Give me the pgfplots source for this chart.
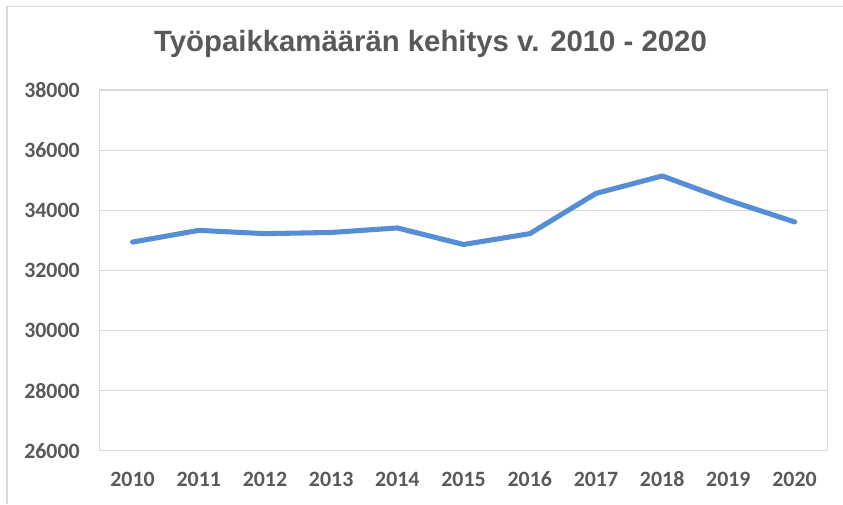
\documentclass[border=0pt]{standalone}
\usepackage{pgfplots}
\pgfplotsset{compat=1.18}
\usepackage{fontspec}
\setmainfont{Liberation Sans}
\newfontfamily\tickfont{Carlito}
\definecolor{txtgray}{HTML}{595959}
\definecolor{gridgray}{HTML}{D9D9D9}
\definecolor{lineblue}{HTML}{558ED5}
\begin{document}
\begin{tikzpicture}[x=1pt,y=1pt]
\useasboundingbox (0,0) rectangle (632.25,378);
\draw[draw=gridgray, line width=0.9pt] (5.25,0) -- (5.25,373) -- (632.25,373);
\node[anchor=base, text=txtgray, font=\fontsize{22}{26}\selectfont\bfseries, inner sep=0pt] at (322.9,339.2) {Työpaikkamäärän kehitys v. 2010 - 2020};
\begin{axis}[
  at={(74.6pt,40pt)}, anchor=south west,
  scale only axis, width=546.2pt, height=270.5pt,
  xmin=2009.5, xmax=2020.5,
  ymin=26000, ymax=38000,
  xtick={2010,...,2020},
  ytick={26000,28000,...,38000},
  xticklabels={2010,2011,2012,2013,2014,2015,2016,2017,2018,2019,2020},
  yticklabels={26000,28000,30000,32000,34000,36000,38000},
  scaled y ticks=false,
  xmajorgrids=false,
  ymajorgrids=true,
  grid style={draw=gridgray, line width=0.8pt},
  axis line style={draw=gridgray, line width=0.8pt},
  major tick length=0pt,
  tick style={draw=none},
  xticklabel style={anchor=center, yshift=-21.25pt, inner sep=0pt, text=txtgray, font=\tickfont\fontsize{16.4}{18}\selectfont\bfseries},
  yticklabel style={anchor=east, xshift=-14.6pt, inner sep=0pt, text=txtgray, font=\tickfont\fontsize{16.4}{18}\selectfont\bfseries},
  clip=false,
]
\addplot[draw=lineblue, line width=3.8pt, line join=round, line cap=round] coordinates {
(2010,32940) (2011,33330) (2012,33220) (2013,33260) (2014,33410) (2015,32860)
(2016,33220) (2017,34560) (2018,35140) (2019,34330) (2020,33610)};
\end{axis}
\end{tikzpicture}
\end{document}
